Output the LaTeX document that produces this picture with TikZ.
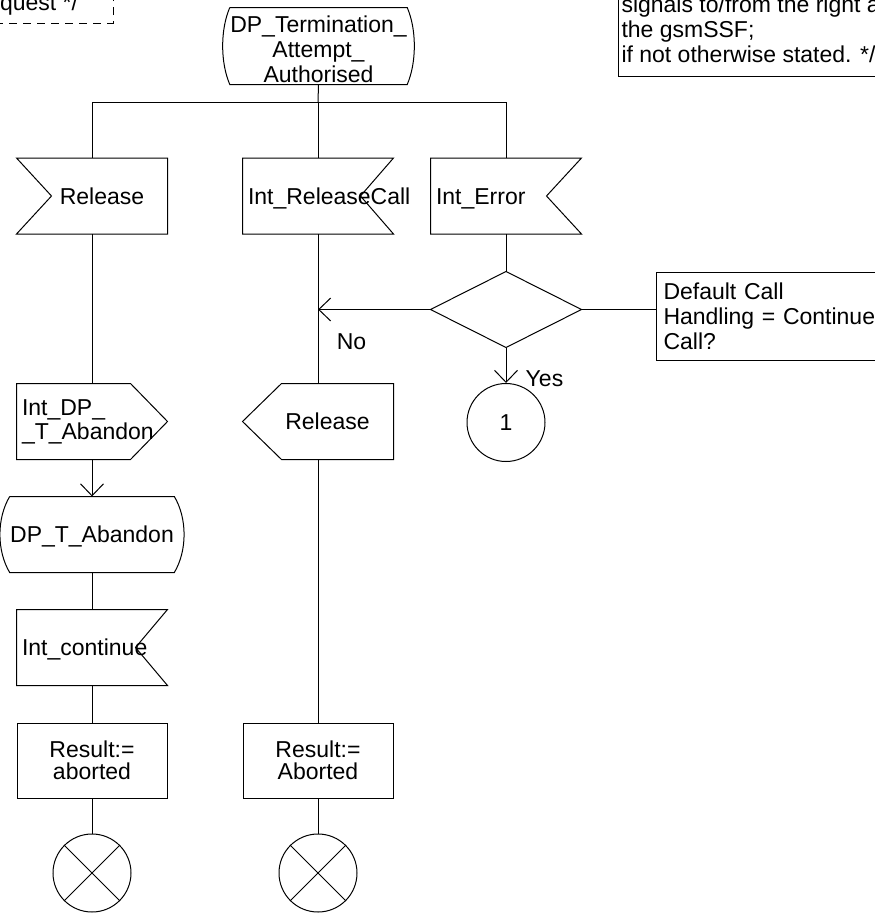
\documentclass[tikz,border=0pt]{standalone}
\usepackage{fontspec}
\setmainfont{Liberation Sans}
\usetikzlibrary{arrows.meta}
\begin{document}
\begin{tikzpicture}[x=1pt,y=-1pt,line width=1pt,
  every node/.style={font=\fontsize{23}{25}\selectfont, inner sep=0pt},
  box/.style={minimum width=150pt, minimum height=75pt},
  one/.style={text height=16.5pt, text depth=0pt},
  arr/.style={-{Straight Barb[length=12pt,width=23pt]}},
  res/.style={box, draw, align=center, font=\fontsize{23}{22}\selectfont},
  term/.style={circle, draw, minimum size=78pt}]
\useasboundingbox (0,0) rectangle (875,913);
\clip (0,0) rectangle (875,913);

% comments (partly cut off)
\draw[dash pattern=on 8pt off 6pt] (-20,-60) rectangle (113,23);
\node[anchor=base west] (cm1) at (-0.5,10) {quest */};
\draw (618,-60) rectangle (920,76);
\node[anchor=south west, align=left] (cm2) at (621,63.5) {signals to/from the right a\\the gsmSSF;\\if not otherwise stated. */};

% start state
\node[minimum width=139pt, minimum height=76pt, align=center] (ts) at (318.5,46) {\rule{0pt}{24pt}DP\_Termination\_\\Attempt\_\\Authorised};
\draw (ts.north west) -- (ts.north east)
  .. controls ([shift={(9.5pt,-22pt)}]ts.north east) and ([shift={(9.5pt,22pt)}]ts.south east) .. (ts.south east)
  -- (ts.south west)
  .. controls ([shift={(-9.5pt,22pt)}]ts.south west) and ([shift={(-9.5pt,-22pt)}]ts.north west) .. (ts.north west);

% inputs
\node[box, one] (rel1) at (92,196) {\hspace*{20pt}Release};
\draw (rel1.north west) -- (rel1.north east) -- (rel1.south east) -- (rel1.south west) -- ([xshift=35pt]rel1.west) -- cycle;
\node[box, one] (rc) at (318,196) {\makebox[140pt][l]{Int\_ReleaseCall}};
\draw (rc.north west) -- (rc.north east) -- ([xshift=-33pt]rc.east) -- (rc.south east) -- (rc.south west) -- cycle;
\node[box, one] (err) at (506,196) {\makebox[140pt][l]{Int\_Error}};
\draw (err.north west) -- (err.north east) -- ([xshift=-35pt]err.east) -- (err.south east) -- (err.south west) -- cycle;

% decision
\node[box] (dia) at (506,309.5) {};
\draw (dia.north) -- (dia.east) -- (dia.south) -- (dia.west) -- cycle;
\node[draw, anchor=west, minimum height=88pt, text width=240pt, align=left, inner xsep=7pt] (dc) at (656,316) {Default Call\\Handling = Continue\\Call?};
\node[term, one] (c1) at (506,422.5) {1};
\node[one] (lno) at (351.5,340.75) {No};
\node[one] (lyes) at (544.5,378.5) {Yes};

% middle column
\node[box, one] (rout) at (318,421.5) {\hspace*{19pt}Release};
\draw (rout.west) -- ([xshift=39pt]rout.north west) -- (rout.north east) -- (rout.south east) -- ([xshift=39pt]rout.south west) -- cycle;
\node[res] (res2) at (318,760.5) {Result:=\\Aborted};
\node[term] (x2) at (318,873) {};
\draw (x2.north west) -- (x2.south east) (x2.north east) -- (x2.south west);

% left column
\node[box, text width=140pt, align=left, font=\fontsize{23}{24}\selectfont] (dp1) at (92,421.5) {Int\_DP\_\\\_T\_Abandon};
\draw (dp1.north west) -- ([xshift=-37pt]dp1.north east) -- (dp1.east) -- ([xshift=-37pt]dp1.south east) -- (dp1.south west) -- cycle;
\node[minimum width=132pt, minimum height=75pt, one] (dpt) at (92,534.5) {DP\_T\_Abandon};
\draw (dpt.north west) -- (dpt.north east)
  .. controls ([shift={(13pt,-22pt)}]dpt.north east) and ([shift={(13pt,22pt)}]dpt.south east) .. (dpt.south east)
  -- (dpt.south west)
  .. controls ([shift={(-13pt,22pt)}]dpt.south west) and ([shift={(-13pt,-22pt)}]dpt.north west) .. (dpt.north west);
\node[box, one] (ic) at (92,647.5) {\makebox[140pt][l]{Int\_continue}};
\draw (ic.north west) -- (ic.north east) -- ([xshift=-32pt]ic.east) -- (ic.south east) -- (ic.south west) -- cycle;
\node[res] (res1) at (92,760.5) {Result:=\\aborted};
\node[term] (x1) at (92,873) {};
\draw (x1.north west) -- (x1.south east) (x1.north east) -- (x1.south west);

% connectors
\coordinate (br) at (318,102);
\draw (ts.south) -- (br);
\draw (br) -| (rel1.north);
\draw (br) -| (err.north);
\draw (br) -- (rc.north);
\draw (err.south) -- (dia.north);
\draw (dia.east) -- (dia.east -| dc.west);
\draw[arr] (dia.west) -- (dia.west -| rc.south);
\draw[arr] (dia.south) -- (c1.north);
\draw (rc.south) -- (rout.north);
\draw (rout.south) -- (res2.north);
\draw (res2.south) -- (x2.north);
\draw (rel1.south) -- (dp1.north);
\draw[arr] (dp1.south) -- (dpt.north);
\draw (dpt.south) -- (ic.north);
\draw (ic.south) -- (res1.north);
\draw (res1.south) -- (x1.north);
\end{tikzpicture}
\end{document}
